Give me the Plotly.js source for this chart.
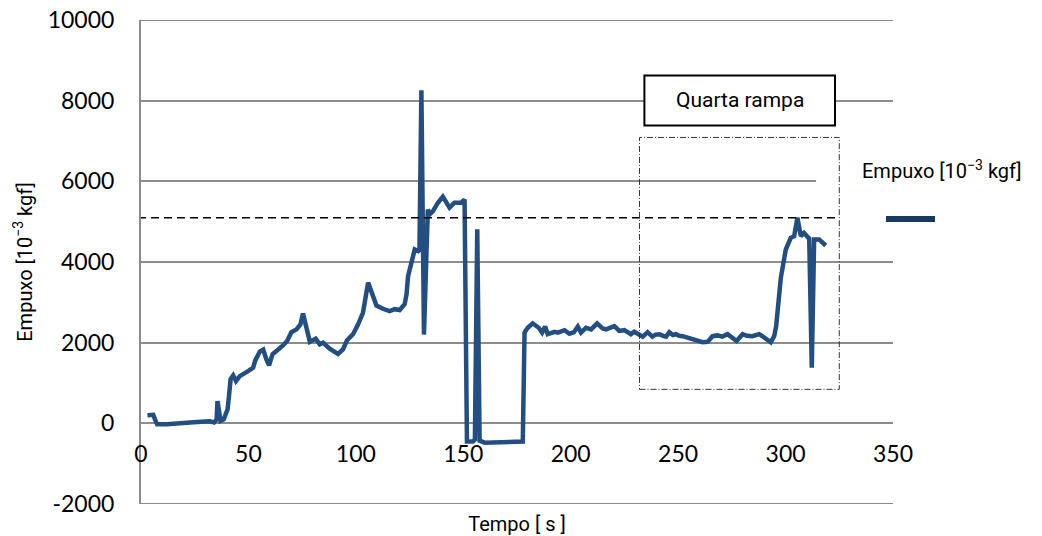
<!DOCTYPE html>
<html>
<head>
<meta charset="utf-8">
<script src="https://cdn.plot.ly/plotly-3.0.1.min.js"></script>
<style>
  html, body { margin: 0; padding: 0; background: #fff; }
  #chart { width: 1042px; height: 536px; }
</style>
</head>
<body>
<div id="chart"></div>
<script>
// Thrust test record: time [s] and thrust [10^-3 kgf]
const tempo = [
  3, 5.7, 6.8, 7.5, 12, 18, 22.8, 28, 32, 34, 35.2, 35.6, 36.3, 37, 38.5, 40.3, 41, 41.7, 42.9, 44.2,
  46, 48, 50, 52.2, 53.2, 55.3, 56.9, 58.4, 59.6, 61.2, 63.8, 66.1, 68, 70, 72.4, 74.2, 75.4, 77, 78.6, 81.3,
  83.2, 84.7, 87.8, 91.7, 94, 95.9, 98.7, 101, 103.3, 105.7, 107.2, 109.6, 112.6, 115.7, 118, 120.4, 122.7, 123.6, 124.3, 125.8,
  127.4, 129, 129.6, 130.5, 131.7, 133.5, 134.3, 135.9, 138.2, 140.5, 143.6, 145.9, 149.1, 150.6, 151.7, 154.5, 155.4, 156.5, 157.6, 160,
  170, 177.7, 178.5, 180, 182.3, 185.1, 186.7, 188.1, 189.3, 191, 192.5, 194, 195.5, 197.1, 199.4, 201.5, 203.3, 204.8, 207.1, 209.5,
  212.3, 214.9, 216.5, 218, 220.3, 222.6, 225, 226.5, 228, 229.6, 231.9, 233.5, 235.8, 238, 239.5, 241.3, 243, 244.4, 245.9, 247.5,
  249, 250.5, 252.1, 254, 256, 258.3, 261.4, 263.7, 266, 268.3, 270.5, 273, 275.3, 277.2, 280, 282, 284.6, 286, 287.7, 289.5,
  290.8, 293.1, 294.7, 295.6, 297.8, 300.1, 302.4, 304, 305.5, 307.1, 308.6, 311, 312.2, 313.3, 315.6, 318.7
];
const empuxo = [
  200, 210, 60, -20, -20, -10, 20, 40, 50, 20, 100, 550, 200, 60, 100, 350, 700, 1100, 1190, 1050,
  1170, 1220, 1300, 1380, 1560, 1780, 1830, 1580, 1440, 1710, 1820, 1930, 2040, 2260, 2330, 2450, 2720, 2330, 2020, 2100,
  1960, 2000, 1850, 1720, 1830, 2060, 2210, 2450, 2740, 3490, 3280, 2920, 2840, 2780, 2830, 2810, 2950, 3200, 3650, 3980,
  4310, 4270, 4300, 8260, 2200, 5300, 5180, 5260, 5470, 5620, 5350, 5470, 5470, 5550, -450, -450, -400, 4810, -430, -480,
  -470, -450, 2250, 2370, 2480, 2370, 2250, 2400, 2210, 2230, 2270, 2250, 2290, 2310, 2220, 2260, 2400, 2250, 2370, 2330,
  2480, 2350, 2330, 2370, 2410, 2290, 2310, 2260, 2210, 2270, 2210, 2150, 2260, 2150, 2200, 2210, 2170, 2150, 2260, 2190,
  2210, 2170, 2160, 2130, 2080, 2040, 2010, 2020, 2160, 2180, 2150, 2210, 2120, 2040, 2210, 2170, 2160, 2190, 2210, 2150,
  2100, 2010, 2160, 2400, 3610, 4310, 4600, 4640, 5100, 4640, 4720, 4580, 1380, 4560, 4560, 4410
];

// Axis ticks
const xTicks = [0, 50, 100, 150, 200, 250, 300, 350];
const yTicks = [-2000, 0, 2000, 4000, 6000, 8000, 10000];

// Reference level and highlighted window of the fourth ramp
const nivelReferencia = 5100;
const janelaTempo = [232, 325];
const janelaEmpuxo = [843, 7088];

const lineColor = '#234e82';
const gridColor = '#8c8c8c';
const labelFont = { family: 'Roboto, "Noto Sans", sans-serif', size: 20, color: '#000' };
const tickFont = { family: 'Lato, "Open Sans", sans-serif', size: 23, color: '#000' };

const trace = {
  x: tempo,
  y: empuxo,
  type: 'scatter',
  mode: 'lines',
  name: 'Empuxo [10<sup>−3</sup> kgf]',
  line: { color: lineColor, width: 4.5 },
  showlegend: false,
  hoverinfo: 'x+y'
};

// grid lines on the range edges
const edgeLines = [yTicks[0], yTicks[yTicks.length - 1]].map(v => ({
  type: 'line', xref: 'x', yref: 'y', layer: 'between',
  x0: 0, x1: 350, y0: v, y1: v,
  line: { color: gridColor, width: 2 }
}));

const layout = {
  width: 1042,
  height: 536,
  margin: { l: 141, r: 149, t: 20, b: 32, pad: 0 },
  paper_bgcolor: '#fff',
  plot_bgcolor: '#fff',
  showlegend: false,
  xaxis: {
    range: [0, 350],
    tickvals: xTicks,
    ticktext: xTicks.map(String),
    showgrid: false,
    zeroline: false,
    showline: false,
    ticks: '',
    anchor: 'free',
    position: 2000 / 12000,
    tickfont: tickFont,
    ticklabelstandoff: 15,
    automargin: false,
    title: { text: 'Tempo [ s ]', font: labelFont, standoff: 52 }
  },
  yaxis: {
    range: [-2000, 10000],
    tickvals: yTicks,
    ticktext: yTicks.map(String),
    showgrid: true,
    gridcolor: gridColor,
    gridwidth: 2,
    zeroline: false,
    showline: true,
    linecolor: gridColor,
    linewidth: 2,
    ticks: '',
    tickfont: tickFont,
    ticklabelstandoff: 20,
    automargin: false,
    title: { text: 'Empuxo [10<sup>−3</sup> kgf]', font: labelFont, standoff: 10 }
  },
  shapes: edgeLines.concat([
    // clears the grid behind the legend block
    {
      type: 'rect', xref: 'x', yref: 'y', layer: 'between',
      x0: 314.2, x1: 352, y0: 5700, y1: 6300,
      fillcolor: '#fff', line: { width: 0 }
    },
    // reference thrust level
    {
      type: 'line', xref: 'x', yref: 'y', layer: 'above',
      x0: -1.4, x1: janelaTempo[1], y0: nivelReferencia, y1: nivelReferencia,
      line: { color: '#000', width: 1.5, dash: '8px,5px' }
    },
    // fourth-ramp window
    {
      type: 'rect', xref: 'x', yref: 'y', layer: 'above',
      x0: janelaTempo[0], x1: janelaTempo[1], y0: janelaEmpuxo[0], y1: janelaEmpuxo[1],
      fillcolor: 'rgba(0,0,0,0)',
      line: { color: '#333', width: 1, dash: '6px,2px,1px,2px' }
    },
    // label box for the window
    {
      type: 'rect', xref: 'x', yref: 'y', layer: 'above',
      x0: 234.3, x1: 323, y0: 7385, y1: 8625,
      fillcolor: '#fff', line: { color: '#000', width: 2 }
    },
    // legend swatch
    {
      type: 'line', xref: 'paper', yref: 'paper', layer: 'above',
      x0: (886 - 141) / 752, x1: (935 - 141) / 752,
      y0: (504 - 219) / 484, y1: (504 - 219) / 484,
      line: { color: '#1b3a63', width: 6 }
    }
  ]),
  annotations: [
    {
      text: 'Quarta rampa', xref: 'x', yref: 'y', x: 278.7, y: 8005,
      showarrow: false, xanchor: 'center', yanchor: 'middle',
      font: { family: 'Roboto, "Noto Sans", sans-serif', size: 21, color: '#000' }
    },
    {
      text: 'Empuxo [10<sup>−3</sup> kgf]', xref: 'paper', yref: 'paper',
      x: (942 - 141) / 752, y: (504 - 170) / 484,
      showarrow: false, xanchor: 'center', yanchor: 'middle',
      font: labelFont
    }
  ]
};

Plotly.newPlot('chart', [trace], layout, { staticPlot: true, displayModeBar: false });
</script>
</body>
</html>
